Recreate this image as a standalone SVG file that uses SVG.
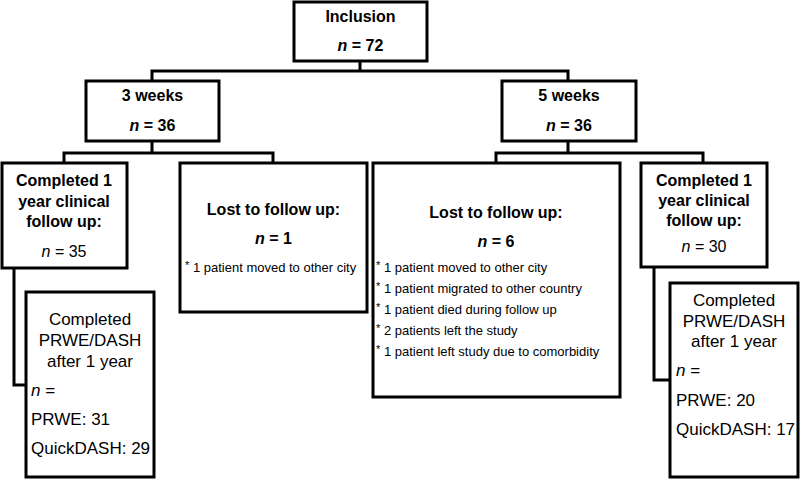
<svg xmlns="http://www.w3.org/2000/svg" width="800" height="479" viewBox="0 0 800 479">
<style>
.box{fill:#fff;stroke:#000;stroke-width:3}
.ln{fill:none;stroke:#000;stroke-width:3;stroke-linejoin:miter}
text{font-family:"Liberation Sans",Arial,sans-serif;fill:#000}
.b{font-weight:bold;font-size:16px;text-anchor:middle}
.r{font-size:16px;text-anchor:middle}
.s{font-size:13px}
.m{font-size:17px}
.mc{font-size:17px;text-anchor:middle}
.i{font-style:italic}
.ast{font-size:11px}
</style>
<rect width="800" height="479" fill="#fff"/>
<g id="connectors">
<path class="ln" d="M360 61V71M152 81V71H568V81"/>
<path class="ln" d="M152 141V153M64 163V153H273V163"/>
<path class="ln" d="M568 141V153M496 163V153H703V163"/>
<path class="ln" d="M14 268V385H26"/>
<path class="ln" d="M654 267V380H670"/>
</g>
<g id="inclusion">
<rect class="box" x="294" y="2" width="133" height="59"/>
<text class="b" x="360.5" y="22">Inclusion</text>
<text class="b" x="360.5" y="51"><tspan class="i">n</tspan> = 72</text>
</g>
<g id="weeks3">
<rect class="box" x="86" y="81" width="133" height="60"/>
<text class="b" x="152.5" y="101">3 weeks</text>
<text class="b" x="152.5" y="131"><tspan class="i">n</tspan> = 36</text>
</g>
<g id="weeks5">
<rect class="box" x="502" y="81" width="134" height="60"/>
<text class="b" x="569" y="101">5 weeks</text>
<text class="b" x="569" y="131"><tspan class="i">n</tspan> = 36</text>
</g>
<g id="completed3">
<rect class="box" x="2" y="163" width="125" height="105"/>
<text class="b" x="64" y="186">Completed 1</text>
<text class="b" x="64" y="207">year clinical</text>
<text class="b" x="64" y="227">follow up:</text>
<text class="r" x="64" y="257"><tspan class="i">n</tspan> = 35</text>
</g>
<g id="lost3">
<rect class="box" x="180" y="163" width="187" height="149"/>
<text class="b" x="273.5" y="215">Lost to follow up:</text>
<text class="b" x="273.5" y="244"><tspan class="i">n</tspan> = 1</text>
<text class="s" x="185" y="272"><tspan class="ast" dy="-3">*</tspan><tspan dy="3"> 1 patient moved to other city</tspan></text>
</g>
<g id="lost5">
<rect class="box" x="373" y="163" width="247" height="234"/>
<text class="b" x="496" y="218">Lost to follow up:</text>
<text class="b" x="496" y="247"><tspan class="i">n</tspan> = 6</text>
<text class="s" x="376" y="272"><tspan class="ast" dy="-3">*</tspan><tspan dy="3"> 1 patient moved to other city</tspan></text>
<text class="s" x="376" y="293"><tspan class="ast" dy="-3">*</tspan><tspan dy="3"> 1 patient migrated to other country</tspan></text>
<text class="s" x="376" y="314"><tspan class="ast" dy="-3">*</tspan><tspan dy="3"> 1 patient died during follow up</tspan></text>
<text class="s" x="376" y="335"><tspan class="ast" dy="-3">*</tspan><tspan dy="3"> 2 patients left the study</tspan></text>
<text class="s" x="376" y="356"><tspan class="ast" dy="-3">*</tspan><tspan dy="3"> 1 patient left study due to comorbidity</tspan></text>
</g>
<g id="completed5">
<rect class="box" x="641" y="163" width="126" height="104"/>
<text class="b" x="704" y="186">Completed 1</text>
<text class="b" x="704" y="206">year clinical</text>
<text class="b" x="704" y="226">follow up:</text>
<text class="r" x="704" y="252"><tspan class="i">n</tspan> = 30</text>
</g>
<g id="prwe3">
<rect class="box" x="26" y="292" width="128" height="185"/>
<text class="mc" x="90" y="325">Completed</text>
<text class="mc" x="90" y="346">PRWE/DASH</text>
<text class="mc" x="90" y="367">after 1 year</text>
<text class="m" x="31" y="396"><tspan class="i">n</tspan> =</text>
<text class="m" x="31" y="425">PRWE: 31</text>
<text class="m" x="31" y="454">QuickDASH: 29</text>
</g>
<g id="prwe5">
<rect class="box" x="670" y="283" width="128" height="194"/>
<text class="mc" x="734" y="306">Completed</text>
<text class="mc" x="734" y="327">PRWE/DASH</text>
<text class="mc" x="734" y="347">after 1 year</text>
<text class="m" x="676" y="376"><tspan class="i">n</tspan> =</text>
<text class="m" x="676" y="406">PRWE: 20</text>
<text class="m" x="676" y="435">QuickDASH: 17</text>
</g>
</svg>
